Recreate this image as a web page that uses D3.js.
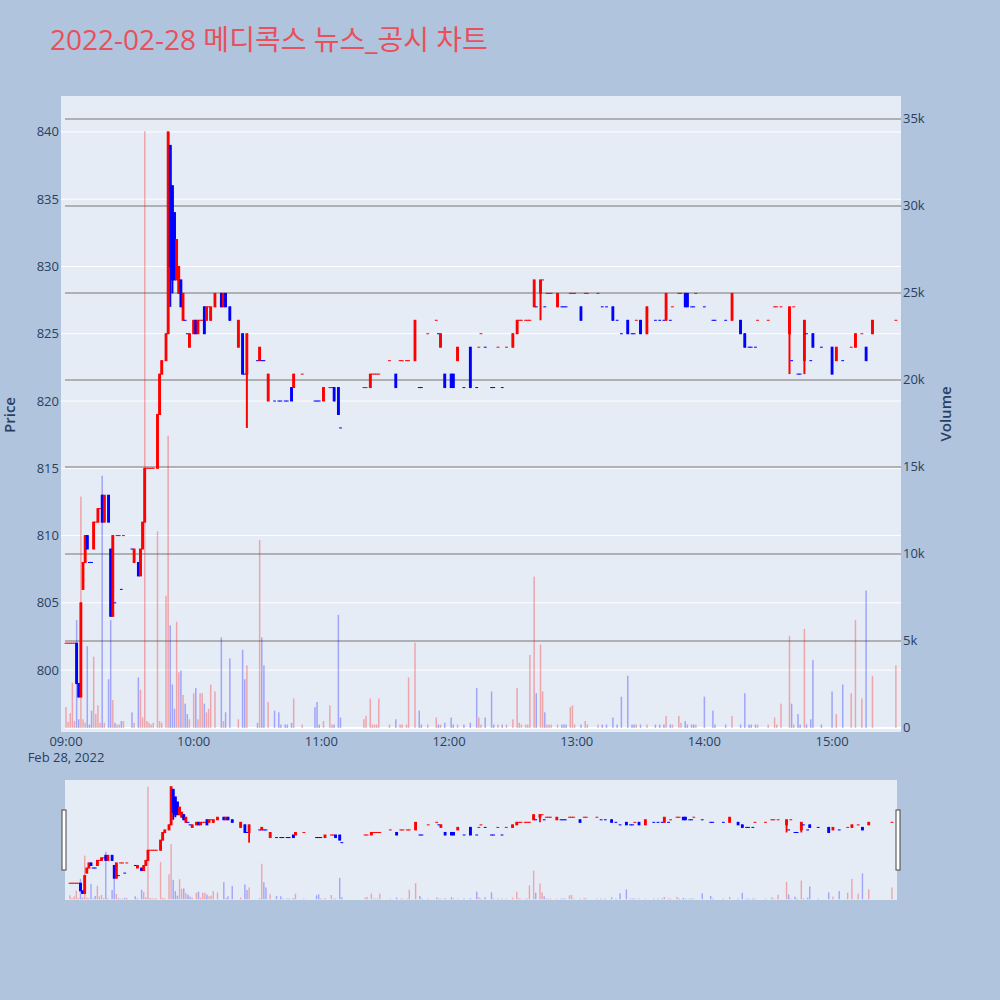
<!DOCTYPE html>
<html><head><meta charset="utf-8">
<script src="https://cdn.jsdelivr.net/npm/d3@7"></script>
<style>
body{margin:0;background:#b0c4de;}
text{font-family:"Open Sans","Noto Sans CJK KR",sans-serif;}
</style>
</head><body>
<svg id="chart" width="1000" height="1000"></svg>
<script>
// ---------------- DATA ----------------
const titleText = "2022-02-28 메디콕스 뉴스_공시 차트";
const times = [
"09:00","09:01","09:02","09:03","09:04","09:05","09:06","09:07","09:08","09:09",
"09:10","09:11","09:12","09:13","09:14","09:15","09:16","09:17","09:18","09:20",
"09:21","09:22","09:23","09:24","09:25","09:26","09:27","09:31","09:32","09:34",
"09:35","09:36","09:37","09:38","09:39","09:40","09:41","09:43","09:44","09:45",
"09:47","09:48","09:49","09:50","09:51","09:52","09:53","09:54","09:55","09:56",
"09:57","09:58","10:00","10:01","10:02","10:03","10:04","10:05","10:06","10:07",
"10:08","10:10","10:13","10:14","10:15","10:17","10:21","10:23","10:24","10:25",
"10:30","10:31","10:32","10:33","10:35","10:38","10:40","10:41","10:43","10:44",
"10:46","10:47","10:51","10:57","10:58","10:59","11:01","11:04","11:05","11:06",
"11:08","11:09","11:20","11:21","11:23","11:24","11:25","11:26","11:27","11:32",
"11:35","11:37","11:38","11:40","11:41","11:44","11:46","11:47","11:50","11:54",
"11:55","11:56","11:58","12:01","12:02","12:04","12:07","12:10","12:13","12:14",
"12:15","12:17","12:20","12:21","12:23","12:25","12:27","12:30","12:32","12:33",
"12:34","12:36","12:37","12:38","12:40","12:41","12:43","12:44","12:45","12:46",
"12:47","12:48","12:51","12:53","12:54","12:55","12:57","12:58","12:59","13:02",
"13:04","13:05","13:10","13:12","13:14","13:17","13:19","13:21","13:24","13:26",
"13:27","13:28","13:30","13:33","13:37","13:39","13:41","13:42","13:44","13:45",
"13:48","13:49","13:51","13:52","13:54","13:55","13:56","14:00","14:04","14:05",
"14:10","14:13","14:17","14:19","14:21","14:22","14:24","14:25","14:30","14:33",
"14:34","14:36","14:40","14:41","14:42","14:44","14:45","14:47","14:48","14:50",
"14:51","14:55","15:00","15:02","15:05","15:09","15:11","15:14","15:16","15:19",
"15:30"];
const open = [
802,802,802,802,802,802,799,798,806,808,
810,808,808,809,811,811,812,813,811,813,
809,804,805,810,810,806,810,809,808,808,
807,809,811,815,815,815,815,815,819,822,
823,825,839,836,834,829,828,829,826,826,
825,824,825,826,825,826,826,827,826,827,
826,827,828,827,828,827,824,825,822,822,
823,823,823,823,820,820,820,820,820,820,
821,821,822,820,820,820,820,821,821,821,
821,818,821,821,821,822,822,822,822,823,
822,823,823,823,823,823,821,821,825,826,
825,824,822,822,822,823,821,824,821,824,
825,824,821,821,824,821,824,824,825,826,
826,826,826,826,827,827,828,829,827,828,
828,828,827,827,827,827,828,828,828,827,
828,828,828,827,827,827,826,825,826,825,
825,826,826,825,826,826,826,826,826,827,
828,828,828,828,827,827,828,827,826,826,
826,826,826,825,824,824,824,826,826,827,
827,827,825,823,827,822,822,823,825,823,
825,824,824,823,823,824,824,825,824,825,
826];
const high = [
802,802,802,802,802,802,799,805,808,810,
810,808,808,811,811,812,812,813,813,813,
809,810,805,810,810,806,810,809,809,808,
809,811,815,815,815,815,815,819,822,823,
825,840,839,836,834,832,830,829,828,826,
825,825,826,826,826,826,826,827,827,827,
827,828,828,828,828,827,826,825,822,825,
823,824,823,823,822,820,820,820,820,820,
821,822,822,820,820,820,821,821,821,821,
821,818,821,821,822,822,822,822,822,823,
822,823,823,823,823,826,821,821,825,826,
825,825,822,822,822,824,821,824,821,824,
825,824,821,821,824,821,824,825,826,826,
826,826,826,826,829,827,829,829,827,828,
828,828,828,827,827,827,828,828,828,827,
828,828,828,827,827,827,826,825,826,825,
825,826,826,827,826,826,826,828,826,827,
828,828,828,828,827,827,828,827,826,826,
826,828,826,825,824,824,824,826,826,827,
827,827,827,823,827,822,822,826,825,823,
825,824,824,824,823,824,825,825,824,826,
826];
const low = [
802,802,802,802,802,799,798,798,806,808,
809,808,808,809,811,811,812,811,811,811,
804,804,805,810,810,806,810,809,808,807,
807,809,811,815,815,815,815,815,819,822,
823,825,827,828,829,829,828,827,826,826,
825,824,825,825,825,826,826,825,826,827,
826,827,827,827,827,826,824,822,822,818,
823,823,823,823,820,820,820,820,820,820,
820,821,822,820,820,820,820,821,821,820,
819,818,821,821,821,822,822,822,822,823,
821,823,823,823,823,823,821,821,825,826,
825,824,821,821,821,823,821,821,821,824,
825,824,821,821,824,821,824,824,825,826,
826,826,826,826,827,827,826,829,827,828,
828,828,827,827,827,827,828,828,828,826,
828,828,828,827,827,826,826,825,825,825,
825,826,825,825,826,826,826,826,826,827,
828,828,827,827,827,827,828,827,826,826,
826,826,825,824,824,824,824,826,826,827,
827,827,822,823,827,822,822,822,825,823,
824,824,822,823,823,824,824,825,823,825,
826];
const close = [
802,802,802,802,802,799,798,805,808,810,
809,808,808,811,811,812,812,811,813,811,
804,810,805,810,810,806,810,809,809,807,
809,811,815,815,815,815,815,819,822,823,
825,840,830,829,829,832,830,827,828,826,
825,825,826,825,826,826,826,825,827,827,
827,828,827,828,827,826,826,822,822,825,
823,824,823,823,822,820,820,820,820,820,
820,822,822,820,820,820,821,821,821,820,
819,818,821,821,822,822,822,822,822,823,
821,823,823,823,823,826,821,821,825,826,
825,825,821,821,821,824,821,821,821,824,
825,824,821,821,824,821,824,825,826,826,
826,826,826,826,829,827,829,829,827,828,
828,828,828,827,827,827,828,828,828,826,
828,828,828,827,827,826,826,825,825,825,
825,826,825,827,826,826,826,828,826,827,
828,828,827,827,827,827,828,827,826,826,
826,828,825,824,824,824,824,826,826,827,
827,827,827,823,827,822,822,826,825,823,
824,824,822,824,823,824,825,825,823,826,
826];
const volume = [
1200,350,850,2600,400,6200,500,13300,500,300,
4700,200,1000,4100,800,1300,300,14500,300,2800,
6200,1600,300,200,200,400,400,900,300,2900,
2200,600,34300,400,300,200,300,11300,400,300,
7600,16800,5900,2500,1100,6100,3200,3300,1900,1400,
800,500,2000,2300,500,2000,2000,1400,900,1100,
2500,2100,5200,400,900,4000,500,4500,2800,3600,
300,10800,5200,3600,1500,1000,900,200,200,200,
300,1700,200,1200,1500,200,400,1300,200,200,
6500,600,500,700,1700,200,200,200,1700,200,
500,200,200,200,2900,4900,1000,200,200,600,
200,200,300,600,200,200,200,300,2300,600,
200,600,2100,200,200,200,200,500,2300,300,
200,200,200,4200,8700,2000,4800,2100,900,200,
200,200,200,200,200,200,1200,1300,200,200,
400,200,200,200,200,600,200,1800,3000,200,
200,200,200,200,200,200,200,700,200,200,
700,300,400,200,200,200,200,1800,1000,200,
200,700,200,2000,200,200,200,200,200,600,
200,1400,5300,1400,200,800,200,5700,200,500,
3900,200,2100,800,2500,2000,6200,1700,7900,3000,
3600];
const priceTicks = [800,805,810,815,820,825,830,835,840];
const volumeTicks = [0,5000,10000,15000,20000,25000,30000,35000];
const volumeTickLabels = ["0","5k","10k","15k","20k","25k","30k","35k"];
const timeTicks = ["09:00","10:00","11:00","12:00","13:00","14:00","15:00"];
const dateLabel = "Feb 28, 2022";

// ---------------- SETUP ----------------
const UP = "#ff0000", DOWN = "#0000ff";
const base = new Date(2022,1,28,9,0);
const parseT = s => new Date(2022,1,28,+s.slice(0,2),+s.slice(3,5));
const addMin = m => new Date(base.getTime() + m*60000);

const data = times.map((t,i)=>({t:parseT(t),o:open[i],h:high[i],l:low[i],c:close[i],v:volume[i]}));
let prevC = null, prevDir = 1;
data.forEach(d=>{
  let dir;
  if (d.c > d.o) dir = 1;
  else if (d.c < d.o) dir = -1;
  else if (prevC !== null && d.c > prevC) dir = 1;
  else if (prevC !== null && d.c < prevC) dir = -1;
  else dir = prevDir;
  d.dir = dir; prevDir = dir; prevC = d.c;
});

const svg = d3.select("#chart");
svg.append("rect").attr("width",1000).attr("height",1000).attr("fill","#b0c4de");

const P = {l:61, r:901, t:96, b:732};
const xDomain = [addMin(-2.35), addMin(392.4)];
const priceDomain = [795.4, 842.67];
const volDomain = [-230, 36320];

const x = d3.scaleTime().domain(xDomain).range([P.l, P.r]);
const y = d3.scaleLinear().domain(priceDomain).range([P.b, P.t]);
const yv = d3.scaleLinear().domain(volDomain).range([P.b, P.t]);

// title
svg.append("text").attr("x",50).attr("y",50).attr("font-size",28)
  .attr("fill","#e8505b").text(titleText);

// plot background
svg.append("rect").attr("x",P.l).attr("y",P.t).attr("width",P.r-P.l).attr("height",P.b-P.t).attr("fill","#e5ecf6");

const defs = svg.append("defs");
defs.append("clipPath").attr("id","clipMain").append("rect")
  .attr("x",P.l).attr("y",P.t).attr("width",P.r-P.l).attr("height",P.b-P.t);

// price grid (white)
svg.append("g").selectAll("line").data(priceTicks).join("line")
  .attr("x1",P.l).attr("x2",P.r).attr("y1",d=>y(d)).attr("y2",d=>y(d))
  .attr("stroke","#ffffff").attr("stroke-width",1);
// volume grid (gray)
svg.append("g").selectAll("line").data(volumeTicks.filter(v=>v>0)).join("line")
  .attr("x1",P.l+4).attr("x2",P.r).attr("y1",d=>yv(d)).attr("y2",d=>yv(d))
  .attr("stroke","#9c9c9c").attr("stroke-width",1.6);
// zero line
svg.append("line").attr("x1",P.l+4).attr("x2",P.r).attr("y1",yv(0)).attr("y2",yv(0))
  .attr("stroke","#ffffff").attr("stroke-width",2);

function drawCandles(g, xs, ys, bodyW, wickW){
  g.selectAll("line.wick").data(data.filter(d=>d.h>d.l)).join("line").attr("class","wick")
    .attr("x1",d=>xs(d.t)).attr("x2",d=>xs(d.t))
    .attr("y1",d=>ys(d.h)).attr("y2",d=>ys(d.l))
    .attr("stroke",d=>d.dir>0?UP:DOWN).attr("stroke-width",wickW);
  g.selectAll("rect.body").data(data).join("rect").attr("class","body")
    .attr("x",d=>xs(d.t)-bodyW/2).attr("width",bodyW)
    .attr("y",d=>ys(Math.max(d.o,d.c))).attr("height",d=>Math.max(0.01,Math.abs(ys(d.o)-ys(d.c))))
    .attr("fill",d=>d.dir>0?UP:DOWN)
    .attr("stroke",d=>d.dir>0?UP:DOWN).attr("stroke-width",1);
}
function drawVolume(g, xs, ys, w){
  g.selectAll("rect.vol").data(data).join("rect").attr("class","vol")
    .attr("x",d=>xs(d.t)-w/2).attr("width",w)
    .attr("y",d=>ys(d.v)).attr("height",d=>ys(0)-ys(d.v))
    .attr("fill",d=>d.dir>0?UP:DOWN).attr("fill-opacity",0.3);
}

const gMain = svg.append("g").attr("clip-path","url(#clipMain)");
drawCandles(gMain.append("g"), x, y, 1.8, 2);
drawVolume(gMain.append("g"), x, yv, 1.5);

// axes labels
const tickColor = "#2a3f5f";
svg.append("g").selectAll("text").data(priceTicks).join("text")
  .attr("x",59).attr("y",d=>y(d)+4.5).attr("text-anchor","end")
  .attr("font-size",13).attr("fill",tickColor).text(d=>d);
svg.append("g").selectAll("text").data(volumeTicks).join("text")
  .attr("x",903).attr("y",d=>yv(d)+4.5).attr("text-anchor","start")
  .attr("font-size",13).attr("fill",tickColor).text((d,i)=>volumeTickLabels[i]);
svg.append("g").selectAll("text").data(timeTicks).join("text")
  .attr("x",d=>x(parseT(d))).attr("y",746).attr("text-anchor","middle")
  .attr("font-size",13).attr("fill",tickColor).text(d=>d);
svg.append("text").attr("x",x(parseT(timeTicks[0]))).attr("y",762).attr("text-anchor","middle")
  .attr("font-size",13).attr("fill",tickColor).text(dateLabel);

svg.append("text").attr("transform","translate(15,415) rotate(-90)").attr("text-anchor","middle")
  .attr("font-size",15).attr("font-weight",600).attr("fill",tickColor).text("Price");
svg.append("text").attr("transform","translate(951,414) rotate(-90)").attr("text-anchor","middle")
  .attr("font-size",15).attr("font-weight",600).attr("fill",tickColor).text("Volume");

// ---------------- RANGE SLIDER ----------------
const S = {l:65, r:897, t:780, b:900};
svg.append("rect").attr("x",S.l).attr("y",S.t).attr("width",S.r-S.l).attr("height",S.b-S.t).attr("fill","#e5ecf6");
defs.append("clipPath").attr("id","clipSlider").append("rect")
  .attr("x",S.l).attr("y",S.t).attr("width",S.r-S.l).attr("height",S.b-S.t);
const xs = d3.scaleTime().domain(xDomain).range([S.l, S.r]);
const ys = d3.scaleLinear().domain(priceDomain).range([S.b, S.t]);
const yvs = d3.scaleLinear().domain(volDomain).range([S.b, S.t]);
const gS = svg.append("g").attr("clip-path","url(#clipSlider)");
drawCandles(gS.append("g"), xs, ys, 1.8, 1.8);
drawVolume(gS.append("g"), xs, yvs, 1.4);

[S.l-3, S.r-1].forEach(hx=>{
  svg.append("rect").attr("x",hx).attr("y",810).attr("width",4).attr("height",60)
    .attr("fill","#ffffff").attr("stroke","#444").attr("stroke-width",1);
});
</script>
</body></html>
